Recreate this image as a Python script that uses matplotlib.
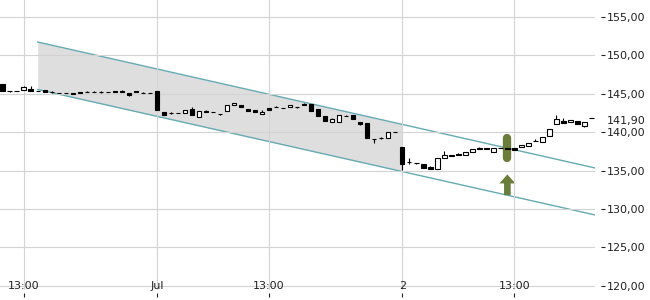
import numpy as np
import matplotlib
matplotlib.use("Agg")
import matplotlib.pyplot as plt
from matplotlib import transforms

# ---------------- data ----------------
opens = [146.25, 145.35, 145.3, 145.5, 145.65, 145.35, 145.45, 145.2, 145.15, 145.1,
         145.15, 145.22, 145.2, 145.2, 145.2, 145.25, 145.3, 145.4, 145.15, 145.3,
         145.15, 145.15, 145.35, 142.65, 142.45, 142.55, 142.45, 143.0, 142.0, 142.72,
         142.6, 142.4, 142.76, 143.5, 143.55, 143.0, 142.9, 142.35, 143.1, 143.24,
         143.1, 143.24, 143.24, 143.67, 143.67, 143.0, 142.15, 141.37, 141.3, 142.15,
         142.24, 141.3, 141.15, 139.07, 139.2, 139.2, 140.0, 138.1, 136.15, 135.95,
         135.8, 135.5, 135.17, 136.7, 137.0, 137.1, 137.0, 137.4, 137.8, 137.9,
         137.46, 137.9, 137.98, 137.9, 138.03, 138.2, 138.9, 138.76, 139.5, 141.03,
         141.46, 141.3, 141.5, 140.85, 141.9]
highs = [146.3, 145.4, 145.3, 145.95, 146.0, 145.35, 145.45, 145.3, 145.15, 145.1,
         145.15, 145.22, 145.3, 145.3, 145.3, 145.25, 145.3, 145.5, 145.15, 145.4,
         145.25, 145.15, 145.4, 142.65, 142.65, 142.55, 142.9, 143.3, 142.8, 142.85,
         142.6, 142.4, 143.55, 143.8, 143.55, 143.0, 142.9, 142.9, 143.1, 143.35,
         143.1, 143.5, 143.24, 143.75, 143.67, 143.0, 142.15, 141.8, 142.24, 142.3,
         142.24, 141.3, 141.15, 139.07, 139.35, 140.0, 140.0, 138.1, 136.6, 136.05,
         135.8, 135.65, 136.7, 137.5, 137.0, 137.3, 137.4, 137.8, 138.1, 137.9,
         137.9, 137.9, 137.98, 137.9, 138.33, 138.6, 139.1, 139.33, 140.37, 142.25,
         141.8, 141.6, 141.5, 141.37, 141.9]
lows = [145.3, 145.25, 145.3, 145.5, 145.4, 145.3, 145.2, 145.1, 145.15, 145.1,
        145.0, 145.1, 145.2, 145.2, 145.1, 145.2, 145.22, 145.2, 144.75, 145.25,
        145.05, 145.15, 142.9, 142.3, 142.35, 142.55, 142.45, 142.3, 142.0, 142.6,
        142.6, 142.25, 142.76, 143.5, 143.25, 142.7, 142.67, 142.33, 142.93, 143.24,
        143.1, 143.24, 143.1, 143.5, 142.78, 142.1, 141.5, 141.37, 141.3, 142.15,
        141.68, 140.95, 139.2, 138.55, 139.1, 139.2, 140.0, 135.05, 135.9, 135.9,
        135.38, 135.17, 135.17, 136.7, 136.9, 137.0, 137.0, 137.4, 137.8, 137.82,
        137.46, 137.9, 137.8, 137.7, 138.03, 138.2, 138.9, 138.76, 139.5, 141.03,
        141.16, 141.3, 141.0, 140.7, 141.9]
closes = [145.35, 145.3, 145.3, 145.9, 145.4, 145.3, 145.2, 145.2, 145.15, 145.1,
          145.02, 145.12, 145.2, 145.2, 145.2, 145.2, 145.25, 145.25, 144.8, 145.28,
          145.15, 145.15, 142.9, 142.3, 142.45, 142.55, 142.9, 142.3, 142.8, 142.62,
          142.6, 142.4, 143.55, 143.76, 143.25, 142.7, 142.67, 142.63, 142.93, 143.24,
          143.1, 143.5, 143.24, 143.5, 142.78, 142.1, 141.5, 141.7, 142.24, 142.15,
          141.68, 141.07, 139.2, 139.07, 139.2, 140.0, 140.0, 135.8, 136.15, 135.95,
          135.38, 135.17, 136.7, 137.03, 136.9, 137.0, 137.4, 137.8, 138.0, 137.85,
          137.9, 137.9, 137.8, 137.7, 138.33, 138.6, 138.9, 139.33, 140.37, 141.68,
          141.16, 141.6, 141.0, 141.37, 141.9]

last_price = 141.90
last_label = "141,90"

x_tick_pos = [3, 22, 38, 57, 73]
x_tick_labels = ["13:00", "Jul", "13:00", "2", "13:00"]

y_ticks = [120, 125, 130, 135, 140, 145, 150, 155]
y_tick_labels = ["120,00", "125,00", "130,00", "135,00", "140,00", "145,00", "150,00", "155,00"]

# trend channel
channel_x = [5, 84.5]
channel_upper = [151.74, 135.34]
channel_lower = [145.56, 129.22]
channel_fill_end = 57

# signal
signal_x = 72
signal_bar = [136.6, 139.3]
arrow_from, arrow_to = 131.8, 134.5

# ---------------- plot ----------------
fig = plt.figure(figsize=(6.5, 3.0), dpi=100)
ax = fig.add_axes([0, 10 / 300, 595 / 650, 290 / 300])

n = len(opens)
x = np.arange(n)
o = np.array(opens); h = np.array(highs); l = np.array(lows); c = np.array(closes)

ax.set_xlim(-0.385, 84.5)
ax.set_ylim(119.45, 157.21)

# channel fill + lines
xf = np.linspace(channel_x[0], channel_fill_end, 50)
ax.fill_between(xf, np.interp(xf, channel_x, channel_lower), np.interp(xf, channel_x, channel_upper),
                color="#dedede", lw=0, zorder=0.5)
ax.plot(channel_x, channel_upper, color="#66aab3", lw=1.0, zorder=2)
ax.plot(channel_x, channel_lower, color="#66aab3", lw=1.0, zorder=2)

# grid
ax.set_yticks(y_ticks)
ax.set_yticklabels(y_tick_labels)
ax.set_xticks(x_tick_pos)
ax.set_xticklabels([""] * len(x_tick_pos))
ax.grid(True, color="#d3d3d3", lw=0.8, zorder=1)
ax.set_axisbelow(False)
for gl in ax.get_xgridlines() + ax.get_ygridlines():
    gl.set_zorder(1)

# signal bar and arrow
ax.plot([signal_x, signal_x], signal_bar, color="#6b7d3a", lw=6.0, solid_capstyle="round", zorder=2.5)
ax.annotate("", xy=(signal_x, arrow_to), xytext=(signal_x, arrow_from),
            arrowprops=dict(arrowstyle="simple,head_length=0.65,head_width=1.15,tail_width=0.48",
                            color="#6b7d3a", shrinkA=0, shrinkB=0, mutation_scale=10, lw=0),
            zorder=2.5)

# candles
ax.vlines(x, l, h, color="black", lw=0.8, zorder=3)
colors = ["black" if cc < oo else "white" for oo, cc in zip(o, c)]
ax.bar(x, np.abs(c - o), bottom=np.minimum(o, c), width=0.64, color=colors,
       edgecolor="black", linewidth=0.8, zorder=4)

# axes styling
for s in ["top", "left"]:
    ax.spines[s].set_visible(False)
ax.spines["right"].set_position(("outward", 4))
ax.spines["right"].set_visible(False)
ax.spines["bottom"].set_position(("outward", 2.5))
ax.spines["bottom"].set_visible(False)
ax.yaxis.tick_right()
ax.tick_params(axis="y", length=3, width=0.8, pad=1.5, labelsize=8, colors="#222222")
ax.tick_params(axis="x", length=3, width=0.8, pad=0, labelsize=8, colors="#222222")

for xp, lab in zip(x_tick_pos, x_tick_labels):
    ax.text(xp, 120, lab, ha="center", va="center", fontsize=8, color="#222222", zorder=5)

ax.annotate(last_label, xy=(1, last_price), xycoords=("axes fraction", "data"),
            xytext=(8.7, -2.4), textcoords="offset points", ha="left", va="center",
            fontsize=8, color="#222222", annotation_clip=False)

fig.savefig("out.png", dpi=100)
